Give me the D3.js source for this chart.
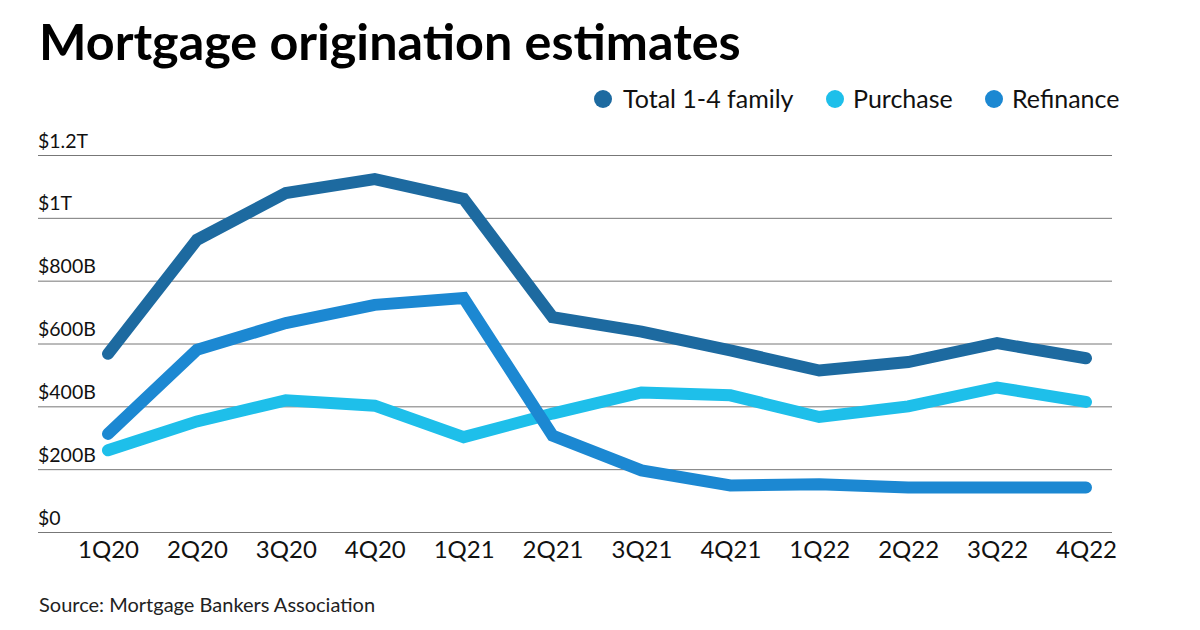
<!DOCTYPE html>
<html><head><meta charset="utf-8">
<script src="https://cdn.jsdelivr.net/npm/d3@7"></script>
<style>
html,body{margin:0;padding:0;background:#fff;}
svg{display:block;font-family:Lato,"Open Sans",sans-serif;}
</style></head>
<body>
<svg id="chart" width="1200" height="630"></svg>
<script>
const categories = ["1Q20","2Q20","3Q20","4Q20","1Q21","2Q21","3Q21","4Q21","1Q22","2Q22","3Q22","4Q22"];
const totalValues = [567, 930, 1079, 1123, 1060, 684, 638, 578, 514, 541, 601, 553];
const purchaseValues = [260, 352, 419, 402, 302, 377, 444, 435, 366, 400, 460, 414];
const refinanceValues = [312, 580, 665, 723, 745, 307, 196, 148, 152, 142, 142, 142];
const yTicks = [0, 200, 400, 600, 800, 1000, 1200];
const yTickLabels = ["$0", "$200B", "$400B", "$600B", "$800B", "$1T", "$1.2T"];
const seriesNames = ["Total 1-4 family", "Purchase", "Refinance"];
const seriesColors = ["#1d6aa0", "#1ebfea", "#1c88d2"];

const svg = d3.select("#chart");
const x = d3.scalePoint().domain(categories).range([108, 1086]);
const y = d3.scaleLinear().domain([0, 1200]).range([532, 155]);
const gridLeft = 38, gridRight = 1112;

// title
svg.append("text").attr("x", 39).attr("y", 60)
  .style("font-size", "50.3px").style("font-weight", 700).attr("fill", "#000")
  .text("Mortgage origination estimates");

// grid + y labels
const yAxis = d3.axisLeft(y).tickValues(yTicks)
  .tickSize(-(gridRight - gridLeft))
  .tickFormat((d, i) => yTickLabels[i]);
const gy = svg.append("g").attr("transform", `translate(${gridLeft},0)`).call(yAxis);
gy.select(".domain").remove();
gy.selectAll(".tick line").attr("stroke", "#777").attr("stroke-width", 1);
gy.selectAll(".tick text")
  .attr("x", 0).attr("dy", "-8px").attr("text-anchor", "start")
  .style("font-size", "19.5px").style("font-family", "Lato").attr("fill", "#111");

// x axis labels
const xAxis = d3.axisBottom(x).tickSize(0).tickPadding(0);
const gx = svg.append("g").attr("transform", "translate(0,540)").call(xAxis);
gx.select(".domain").remove();
gx.selectAll(".tick text").attr("dy", "18px").attr("y", 0)
  .style("font-size", "24px").style("font-family", "Lato").attr("fill", "#111");

// lines
const line = d3.line().x((d, i) => x(categories[i])).y(d => y(d));
const drawOrder = [[purchaseValues, 1], [refinanceValues, 2], [totalValues, 0]];
drawOrder.forEach(([vals, ci]) => {
  svg.append("path").datum(vals).attr("d", line)
    .attr("fill", "none").attr("stroke", seriesColors[ci])
    .attr("stroke-width", 12).attr("stroke-linecap", "round").attr("stroke-linejoin", "miter");
});

// legend
const legendItems = [
  {name: seriesNames[0], color: seriesColors[0], cx: 603, tx: 623},
  {name: seriesNames[1], color: seriesColors[1], cx: 835, tx: 853},
  {name: seriesNames[2], color: seriesColors[2], cx: 994, tx: 1012}
];
const lg = svg.append("g");
legendItems.forEach(it => {
  lg.append("circle").attr("cx", it.cx).attr("cy", 99).attr("r", 9).attr("fill", it.color);
  lg.append("text").attr("x", it.tx).attr("y", 108).style("font-size", "25px").attr("fill", "#111").text(it.name);
});

// source
svg.append("text").attr("x", 39).attr("y", 612).style("font-size", "20px").attr("fill", "#222")
  .text("Source: Mortgage Bankers Association");
</script>
</body></html>
